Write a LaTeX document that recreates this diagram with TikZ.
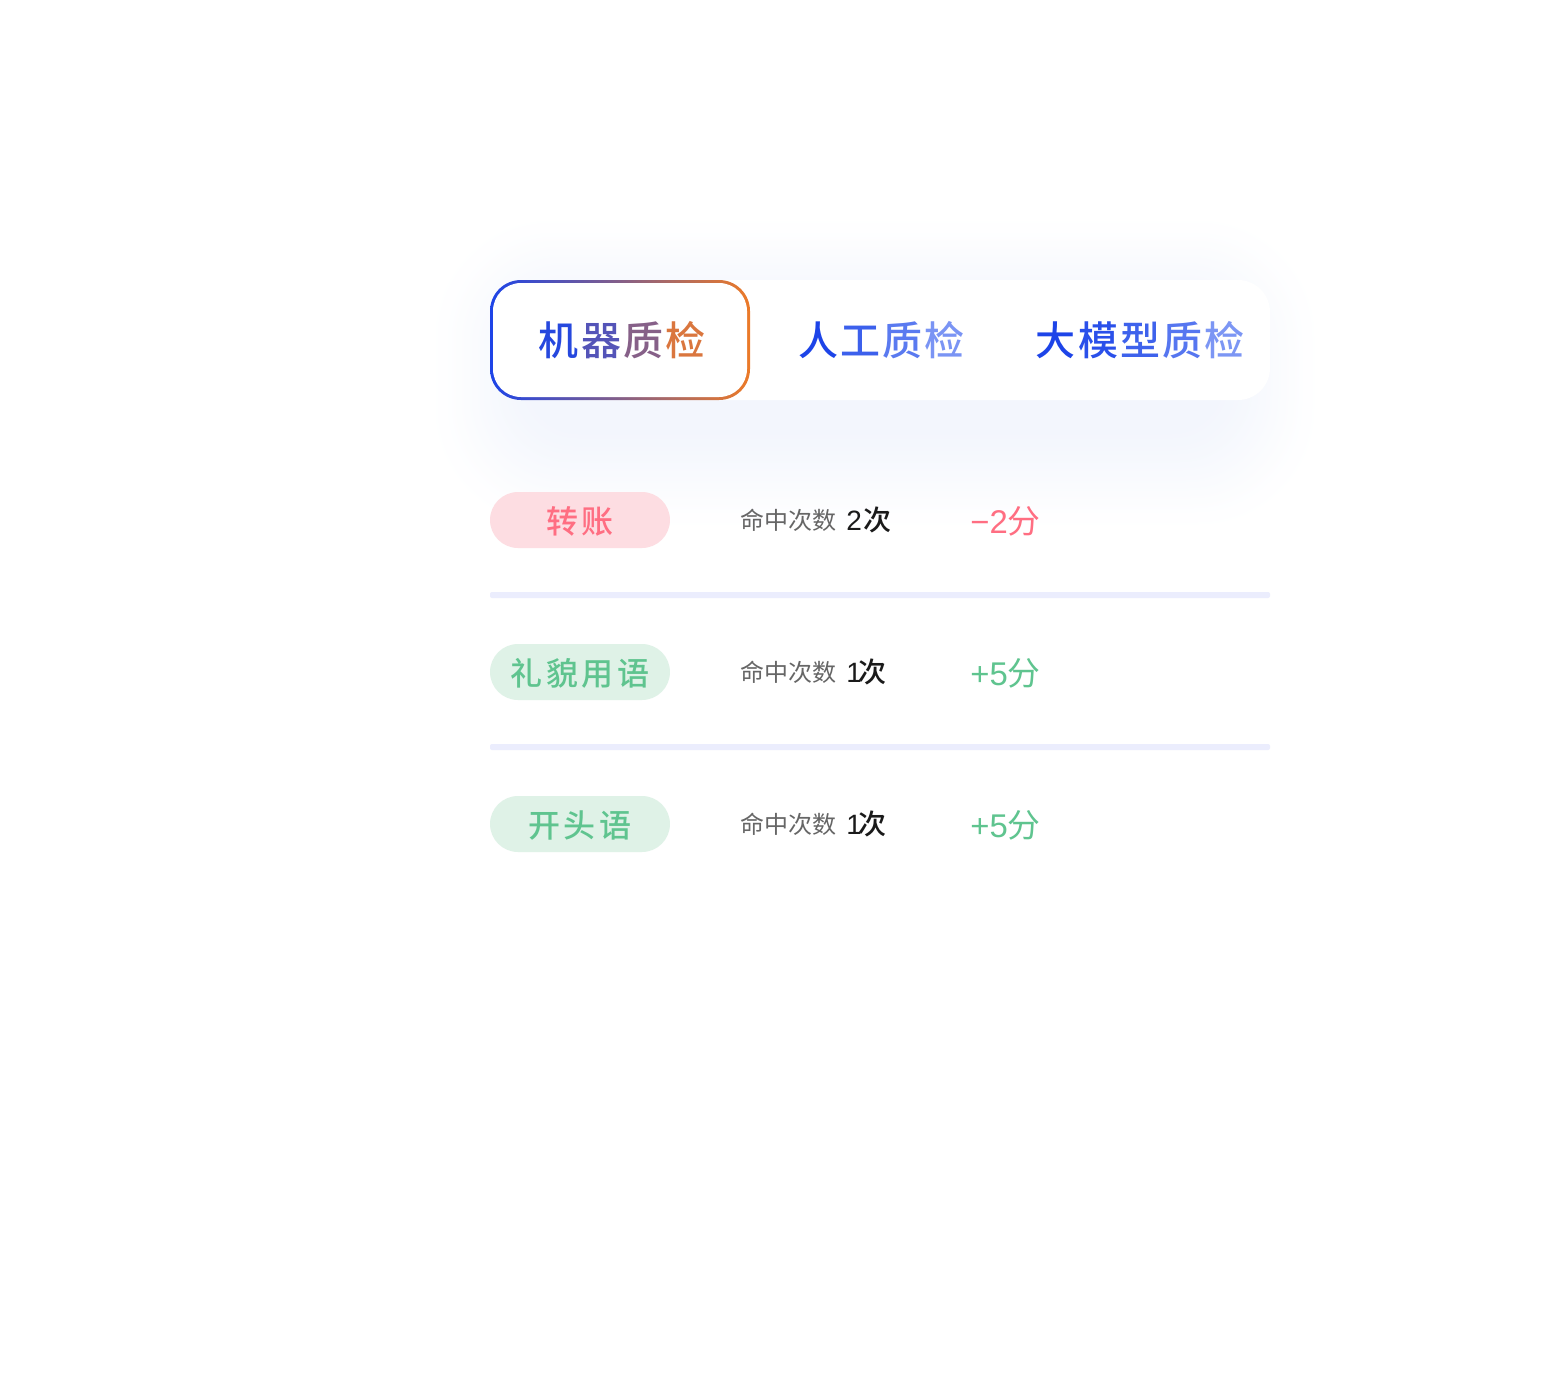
\documentclass[tikz,border=0pt]{standalone}
\usepackage{fontspec}
\usepackage{xcolor}
\setmainfont{Noto Sans CJK SC}
\newfontfamily\tabfont{Noto Sans CJK SC Medium}
\newfontfamily\pillfont[LetterSpace=12]{Noto Sans CJK SC Medium}
\newfontfamily\valuefont{Noto Sans CJK SC Medium}
\newfontfamily\latinfont{Liberation Sans}
\newcommand{\tabgap}{\kern1.15pt}
\definecolor{tabblue}{RGB}{29,68,232}
\definecolor{taborange}{RGB}{236,122,40}
\definecolor{glowblue}{RGB}{243,246,253}
\definecolor{rulelilac}{RGB}{235,237,253}
\definecolor{pinkbg}{RGB}{253,221,226}
\definecolor{pinktext}{RGB}{255,110,130}
\definecolor{greenbg}{RGB}{223,242,231}
\definecolor{greentext}{RGB}{95,196,143}
\definecolor{greylabel}{RGB}{102,102,102}
\definecolor{blackvalue}{RGB}{26,26,26}
\tikzset{
  tablabel/.style={inner sep=0pt,font=\tabfont\fontsize{22.76}{26}\selectfont},
  pill/.style={minimum width=3.6cm,minimum height=1.12cm,inner sep=0pt,rounded corners=0.56cm,text height=15pt,text depth=0pt,font=\pillfont\fontsize{18.2}{22}\selectfont},
  hitlabel/.style={anchor=west,inner sep=0pt,text=greylabel,font=\fontsize{13.66}{16}\selectfont},
  hitvalue/.style={anchor=west,inner sep=0pt,text=blackvalue,font=\valuefont\fontsize{15.93}{18}\selectfont},
  score/.style={anchor=west,inner sep=0pt,font=\fontsize{18.7}{22}\selectfont}
}
\begin{document}
\begin{tikzpicture}[x=0.02cm,y=-0.02cm]
\useasboundingbox[fill=white] (0,0) rectangle (1560,1400);

% Soft glow behind the tab bar
\foreach \i in {0,...,50}{
  \pgfmathsetmacro{\tval}{\i/50}
  \pgfmathsetmacro{\mixval}{50*\tval+50*\tval*\tval*(3-2*\tval)}
  \fill[glowblue!\mixval!white,rounded corners=2.4cm-0.028cm*\i] (430+2*\i,215+2*\i) rectangle (1320-2*\i,530-2*\i);
}

% Tab bar
\fill[white,rounded corners=0.64cm] (490,280) rectangle (1270,400);
\shade[left color=tabblue,right color=taborange,rounded corners=0.62cm] (490,280) rectangle (750,400);
\fill[white,rounded corners=0.56cm] (493,283) rectangle (747,397);

\node[tablabel] (tabmachine) at (622,340) {\textcolor[RGB]{38,72,222}{机}\tabgap\textcolor[RGB]{84,84,184}{器}\tabgap\textcolor[RGB]{134,96,136}{质}\tabgap\textcolor[RGB]{218,118,62}{检}};
\node[tablabel] (tabhuman) at (881.5,340) {\textcolor[RGB]{29,68,232}{人}\tabgap\textcolor[RGB]{60,96,236}{工}\tabgap\textcolor[RGB]{90,122,240}{质}\tabgap\textcolor[RGB]{122,148,244}{检}};
\node[tablabel] (tabmodel) at (1140,340) {\textcolor[RGB]{29,68,232}{大}\tabgap\textcolor[RGB]{42,80,234}{模}\tabgap\textcolor[RGB]{62,98,236}{型}\tabgap\textcolor[RGB]{86,118,240}{质}\tabgap\textcolor[RGB]{124,150,244}{检}};

% Rows
\node[pill,fill=pinkbg,text=pinktext] (pilltransfer) at (580,520) {转账};
\node[hitlabel] (hitlabela) at (740,520) {命中次数};
\node[hitvalue] (hitvaluea) at (846,520) {{\latinfont 2}\kern0.8pt 次};
\node[score,text=pinktext] (scorea) at (970,521) {{\latinfont −2}分};

\fill[rulelilac,rounded corners=0.04cm] (490,592) rectangle (1270,598);

\node[pill,fill=greenbg,text=greentext] (pillpolite) at (580,672) {礼貌用语};
\node[hitlabel] (hitlabelb) at (740,672) {命中次数};
\node[hitvalue] (hitvalueb) at (846,672) {{\latinfont 1}\kern-1.7pt 次};
\node[score,text=greentext] (scoreb) at (970,673) {{\latinfont +5}分};

\fill[rulelilac,rounded corners=0.04cm] (490,744) rectangle (1270,750);

\node[pill,fill=greenbg,text=greentext] (pillopening) at (580,824) {开头语};
\node[hitlabel] (hitlabelc) at (740,824) {命中次数};
\node[hitvalue] (hitvaluec) at (846,824) {{\latinfont 1}\kern-1.7pt 次};
\node[score,text=greentext] (scorec) at (970,825) {{\latinfont +5}分};
\end{tikzpicture}
\end{document}
